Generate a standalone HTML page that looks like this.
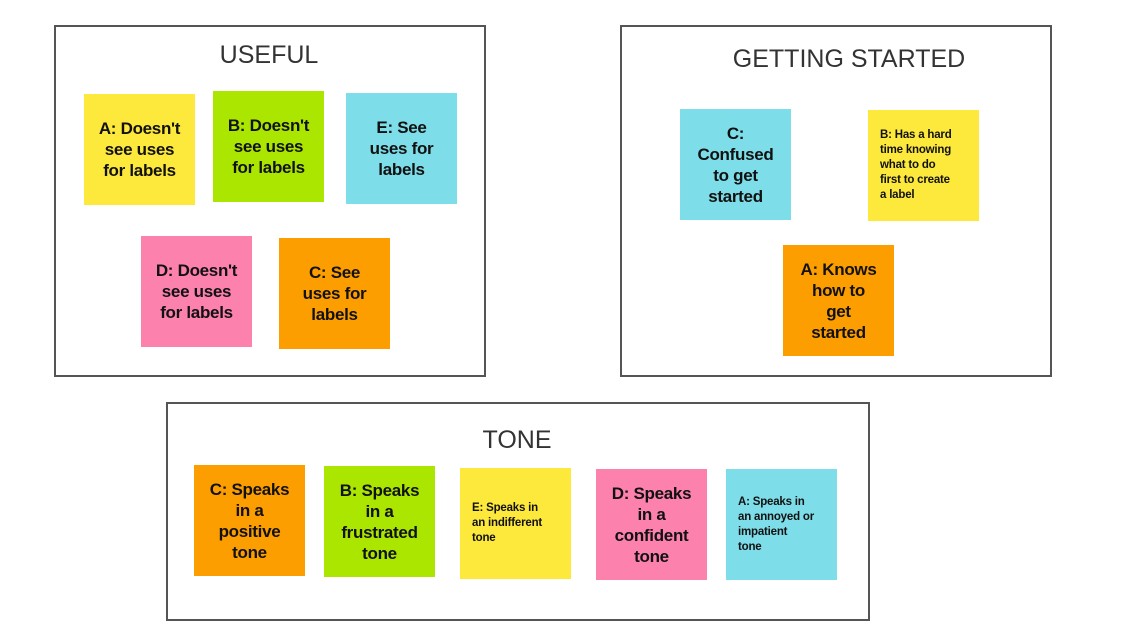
<!DOCTYPE html>
<html><head><meta charset="utf-8"><style>
body{margin:0;width:1138px;height:641px;background:#fff;position:relative;overflow:hidden;font-family:"Liberation Sans",sans-serif}
.f{position:absolute;border:2px solid #555;box-sizing:border-box}
.t{position:absolute;font-size:25px;color:#333;transform:translateX(-50%);white-space:nowrap}
.n{position:absolute;width:111px;height:111px;display:flex;align-items:center;justify-content:center;text-align:center;font-weight:bold;font-size:17px;line-height:21px;color:#111;box-sizing:border-box;padding:0;white-space:nowrap;letter-spacing:-0.3px}
.s{font-size:11.5px;line-height:15px;text-align:left;justify-content:flex-start;padding:0 12px;letter-spacing:-0.2px}
.y{background:#fde83c}.g{background:#abe600}.c{background:#7ddde8}.p{background:#fc82ad}.o{background:#fd9e00}
</style></head><body>
<div class="f" style="left:54px;top:25px;width:432px;height:352px"></div>
<div class="f" style="left:620px;top:25px;width:432px;height:352px"></div>
<div class="f" style="left:166px;top:402px;width:704px;height:219px"></div>
<div class="t" style="left:269px;top:41px">USEFUL</div>
<div class="t" style="left:849px;top:45px">GETTING STARTED</div>
<div class="t" style="left:517px;top:426px">TONE</div>

<div class="n y" style="left:84px;top:94px">A: Doesn't<br>see uses<br>for labels</div>
<div class="n g" style="left:213px;top:91px">B: Doesn't<br>see uses<br>for labels</div>
<div class="n c" style="left:346px;top:93px">E: See<br>uses for<br>labels</div>
<div class="n p" style="left:141px;top:236px">D: Doesn't<br>see uses<br>for labels</div>
<div class="n o" style="left:279px;top:238px">C: See<br>uses for<br>labels</div>

<div class="n c" style="left:680px;top:109px">C:<br>Confused<br>to get<br>started</div>
<div class="n y s" style="left:868px;top:110px">B: Has a hard<br>time knowing<br>what to do<br>first to create<br>a label</div>
<div class="n o" style="left:783px;top:245px">A: Knows<br>how to<br>get<br>started</div>

<div class="n o" style="left:194px;top:465px">C: Speaks<br>in a<br>positive<br>tone</div>
<div class="n g" style="left:324px;top:466px">B: Speaks<br>in a<br>frustrated<br>tone</div>
<div class="n y s" style="left:460px;top:468px">E: Speaks in<br>an indifferent<br>tone</div>
<div class="n p" style="left:596px;top:469px">D: Speaks<br>in a<br>confident<br>tone</div>
<div class="n c s" style="left:726px;top:469px">A: Speaks in<br>an annoyed or<br>impatient<br>tone</div>
</body></html>
